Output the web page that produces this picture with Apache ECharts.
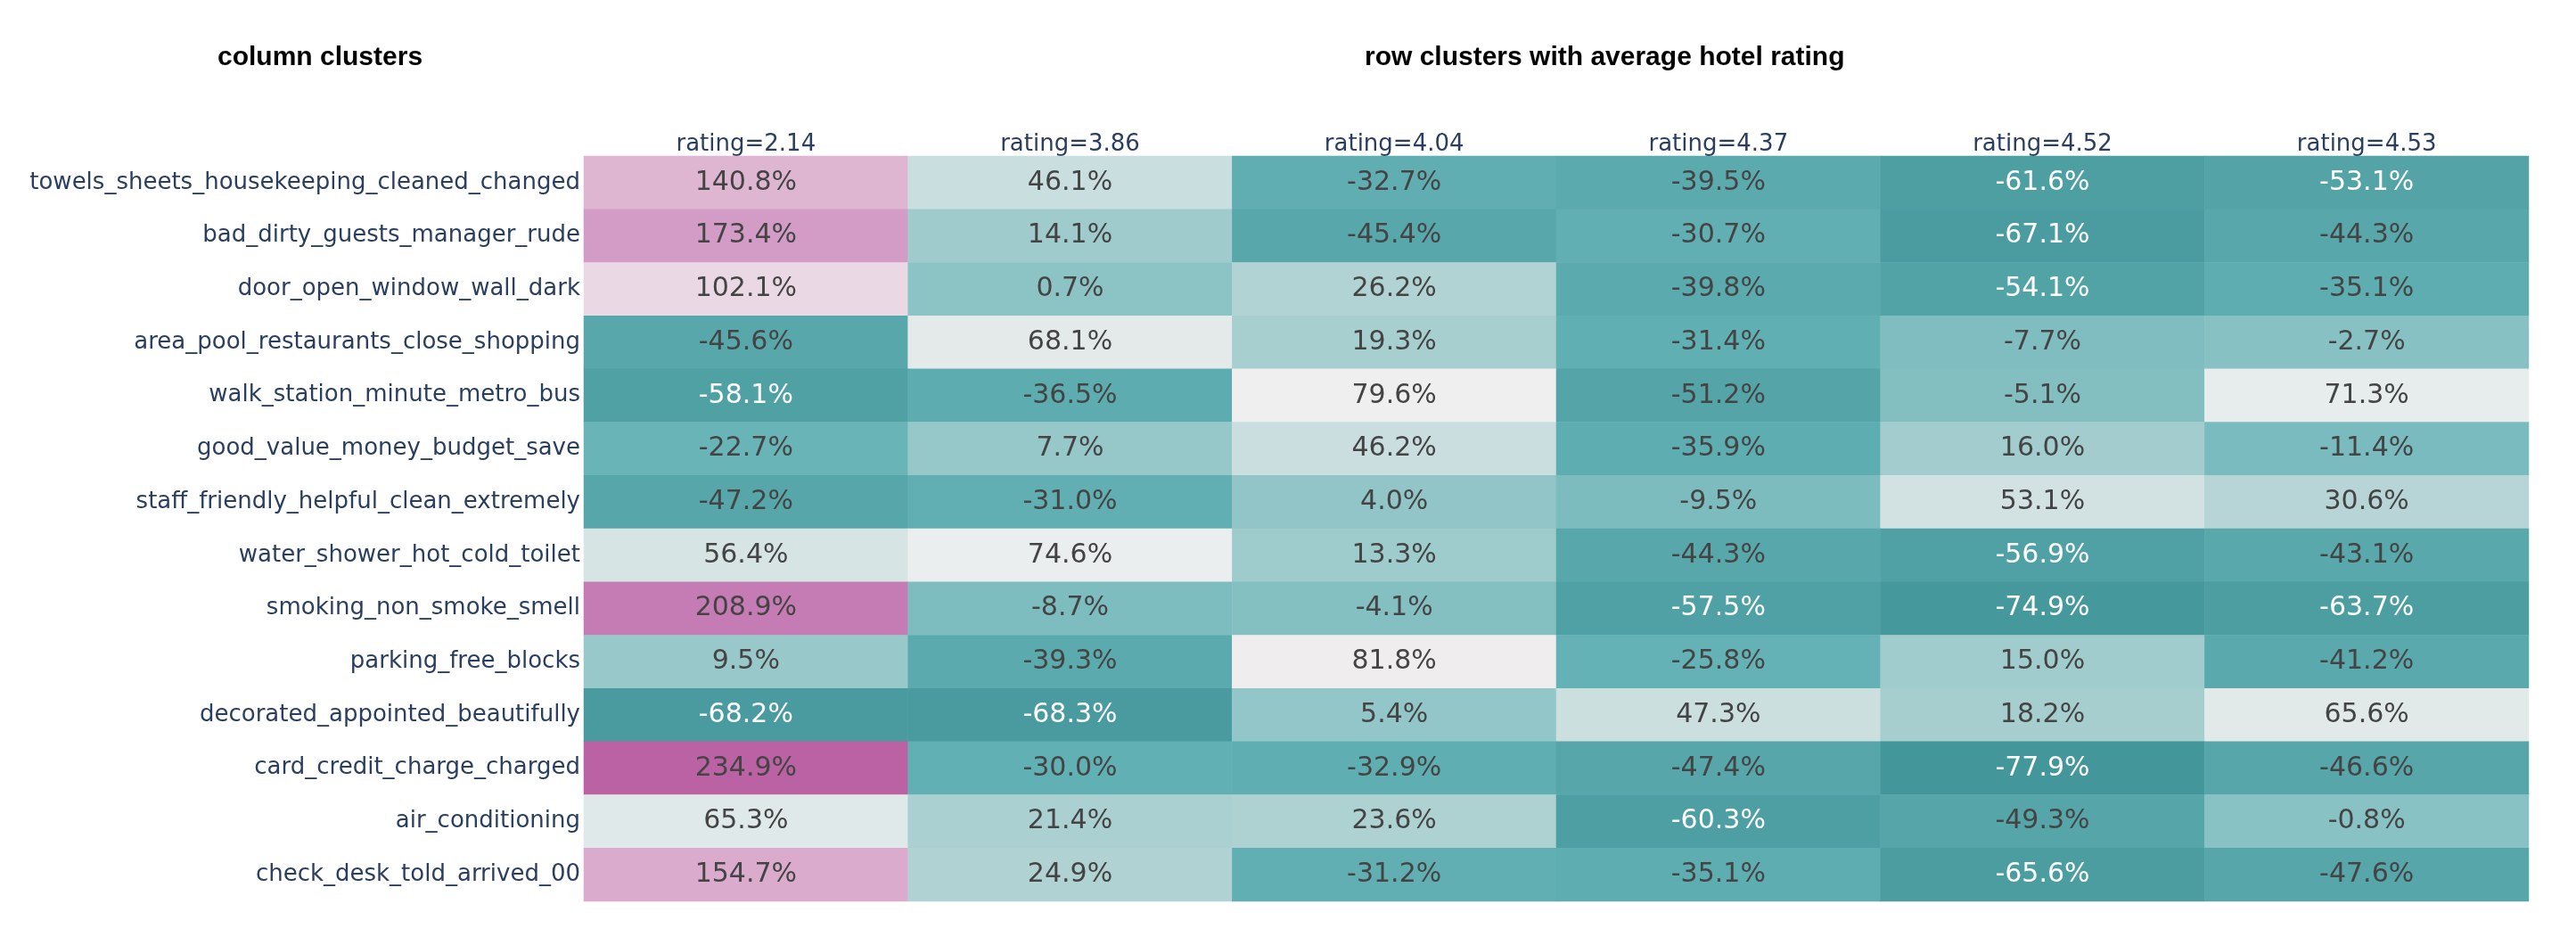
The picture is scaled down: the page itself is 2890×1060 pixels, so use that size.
<!DOCTYPE html>
<html>
<head>
<meta charset="utf-8">
<script src="https://cdn.jsdelivr.net/npm/echarts@6/dist/echarts.min.js"></script>
<style>
html,body{margin:0;padding:0;background:#fff;}
#chart{width:2890px;height:1060px;}
</style>
</head>
<body>
<div id="chart"></div>
<script>
var columns = ['rating=2.14','rating=3.86','rating=4.04','rating=4.37','rating=4.52','rating=4.53'];
var rows = [
  'towels_sheets_housekeeping_cleaned_changed',
  'bad_dirty_guests_manager_rude',
  'door_open_window_wall_dark',
  'area_pool_restaurants_close_shopping',
  'walk_station_minute_metro_bus',
  'good_value_money_budget_save',
  'staff_friendly_helpful_clean_extremely',
  'water_shower_hot_cold_toilet',
  'smoking_non_smoke_smell',
  'parking_free_blocks',
  'decorated_appointed_beautifully',
  'card_credit_charge_charged',
  'air_conditioning',
  'check_desk_told_arrived_00'
];
var towels = [140.8, 46.1, -32.7, -39.5, -61.6, -53.1];
var badDirty = [173.4, 14.1, -45.4, -30.7, -67.1, -44.3];
var doorOpen = [102.1, 0.7, 26.2, -39.8, -54.1, -35.1];
var areaPool = [-45.6, 68.1, 19.3, -31.4, -7.7, -2.7];
var walkStation = [-58.1, -36.5, 79.6, -51.2, -5.1, 71.3];
var goodValue = [-22.7, 7.7, 46.2, -35.9, 16.0, -11.4];
var staffFriendly = [-47.2, -31.0, 4.0, -9.5, 53.1, 30.6];
var waterShower = [56.4, 74.6, 13.3, -44.3, -56.9, -43.1];
var smoking = [208.9, -8.7, -4.1, -57.5, -74.9, -63.7];
var parking = [9.5, -39.3, 81.8, -25.8, 15.0, -41.2];
var decorated = [-68.2, -68.3, 5.4, 47.3, 18.2, 65.6];
var cardCredit = [234.9, -30.0, -32.9, -47.4, -77.9, -46.6];
var airCond = [65.3, 21.4, 23.6, -60.3, -49.3, -0.8];
var checkDesk = [154.7, 24.9, -31.2, -35.1, -65.6, -47.6];
var matrix = [towels, badDirty, doorOpen, areaPool, walkStation, goodValue, staffFriendly,
  waterShower, smoking, parking, decorated, cardCredit, airCond, checkDesk];

var data = [];
var vmin = Infinity, vmax = -Infinity;
matrix.forEach(function(r, i){
  r.forEach(function(v, j){
    data.push([j, i, v]);
    if (v < vmin) vmin = v;
    if (v > vmax) vmax = v;
  });
});

var chart = echarts.init(document.getElementById('chart'), null, {renderer:'canvas'});
var font = '"DejaVu Sans", Verdana, sans-serif';
chart.setOption({
  backgroundColor: '#ffffff',
  animation: false,
  graphic: [
    {type:'text', left: 244, top: 50, style:{text:'column clusters', fill:'#000', font:'bold 30px "Liberation Sans", Arial, sans-serif'}},
    {type:'text', left: 1531, top: 50, style:{text:'row clusters with average hotel rating', fill:'#000', font:'bold 30px "Liberation Sans", Arial, sans-serif'}}
  ],
  grid: {left: 655, right: 53, top: 175, bottom: 49},
  xAxis: {
    type: 'category', data: columns, position: 'top',
    axisLine:{show:false}, axisTick:{show:false}, splitLine:{show:false},
    axisLabel:{color:'#2a3f5f', fontFamily: font, fontSize: 26, margin: 0}
  },
  yAxis: {
    type: 'category', data: rows, inverse: true,
    axisLine:{show:false}, axisTick:{show:false}, splitLine:{show:false},
    axisLabel:{color:'#2a3f5f', fontFamily: font, fontSize: 26, margin: 4}
  },
  visualMap: {
    show: false, min: vmin, max: vmax, dimension: 2, calculable: false,
    inRange: {color: ['#43969a','#64b2b5','#b2d3d4','#f0f0f0','#e2bed6','#d094c2','#ba62a4']}
  },
  series: [{
    type: 'heatmap', data: data,
    itemStyle: {borderWidth: 0},
    label: {
      show: true,
      formatter: function(p){
        var v = p.value[2];
        var s = v.toFixed(1) + '%';
        return v <= -52.5 ? '{w|' + s + '}' : '{d|' + s + '}';
      },
      rich: {
        w: {color:'#ffffff', fontFamily: font, fontSize: 30},
        d: {color:'#444444', fontFamily: font, fontSize: 30}
      }
    }
  }]
});
</script>
</body>
</html>
